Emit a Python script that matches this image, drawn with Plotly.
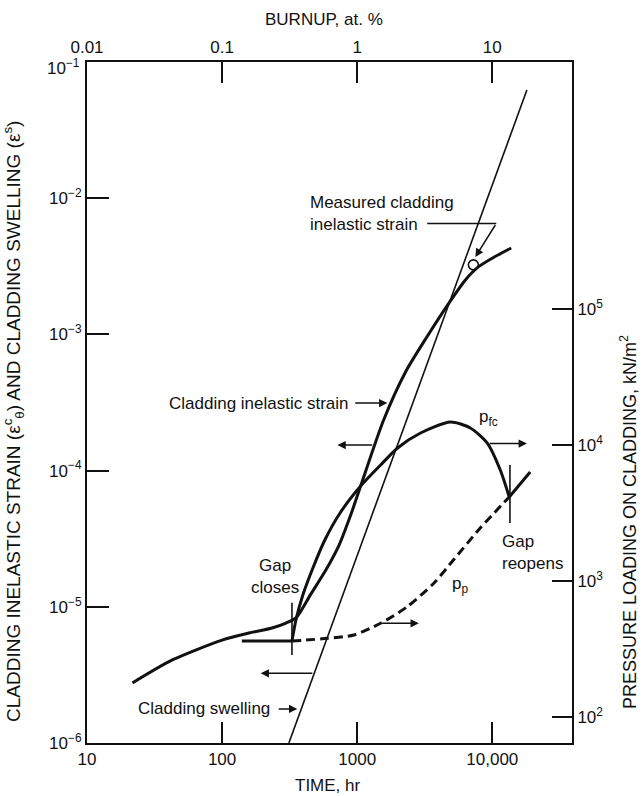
import math
import plotly.graph_objects as go

# ---------------- data ----------------
# cladding inelastic strain (left axis)
time_strain = [21.7, 42.8, 100, 158, 234, 297, 352, 454, 586, 730, 895, 1098, 1569, 2280,
               3314, 4898, 6320, 7883, 10340, 13810]
strain = [2.76e-6, 4.07e-6, 5.70e-6, 6.42e-6, 6.99e-6, 7.60e-6, 8.28e-6, 1.24e-5, 1.86e-5,
          2.80e-5, 4.72e-5, 8.53e-5, 2.35e-4, 5.30e-4, 9.73e-4, 1.76e-3, 2.51e-3, 3.13e-3,
          3.70e-3, 4.31e-3]

# cladding swelling (left axis)
time_swell = [312, 18030]
swelling = [1e-6, 0.0622]

# measured cladding inelastic strain
time_meas = [7245]
strain_meas = [3.24e-3]

# fuel-cladding contact pressure p_fc (right axis, kN/m2)
time_pfc = [329, 352, 396, 470, 576, 755, 1061, 1491, 1991, 2942, 4898, 6880, 9186, 11460, 13350]
p_fc = [362, 517, 789, 1246, 2002, 3216, 4994, 7127, 9504, 12250, 14760, 13340, 10340, 6550, 4146]

# plenum pressure p_p (right axis)
time_pp_open = [140, 329]
p_pp_open = [362, 362]
time_pp_closed = [329, 603, 946, 1490, 2344, 3690, 5155, 8150, 13350]
p_pp_closed = [362, 379, 401, 489, 647, 962, 1427, 2455, 4146]
time_pp_reopen = [13350, 19070]
p_pp_reopen = [4146, 6331]

# gap events
time_gap_close = 329
time_gap_reopen = 13510

# axis ticks
time_ticks = [10, 100, 1000, 10000]
time_labels = ["10", "100", "1000", "10,000"]
burnup_ticks = [0.01, 0.1, 1, 10]
burnup_labels = ["0.01", "0.1", "1", "10"]
strain_ticks = [1e-6, 1e-5, 1e-4, 1e-3, 1e-2, 1e-1]
strain_labels = ["10<sup>−6</sup>", "10<sup>−5</sup>", "10<sup>−4</sup>",
                 "10<sup>−3</sup>", "10<sup>−2</sup>", ""]
strain_top_label = "10<sup>−1</sup>"
press_ticks = [1e2, 1e3, 1e4, 1e5]
press_labels = ["10<sup>2</sup>", "10<sup>3</sup>", "10<sup>4</sup>", "10<sup>5</sup>"]

# ---------------- figure ----------------
FONT = "Liberation Sans"
BLACK = "#111111"
L = math.log10

fig = go.Figure()

thick = dict(color=BLACK, width=3)
SMOOTH = 0.7

fig.add_trace(go.Scatter(x=time_strain, y=strain, mode="lines",
                         line=dict(color=BLACK, width=3, shape="spline", smoothing=SMOOTH),
                         hoverinfo="skip", showlegend=False))
fig.add_trace(go.Scatter(x=time_swell, y=swelling, mode="lines",
                         line=dict(color=BLACK, width=1.6),
                         hoverinfo="skip", showlegend=False))
fig.add_trace(go.Scatter(x=time_meas, y=strain_meas, mode="markers",
                         marker=dict(symbol="circle-open", size=10, color=BLACK,
                                     line=dict(width=1.6, color=BLACK)),
                         hoverinfo="skip", showlegend=False))

fig.add_trace(go.Scatter(x=time_pfc, y=p_fc, mode="lines", yaxis="y2",
                         line=dict(color=BLACK, width=3, shape="spline", smoothing=SMOOTH),
                         hoverinfo="skip", showlegend=False))
fig.add_trace(go.Scatter(x=time_pp_open, y=p_pp_open, mode="lines", yaxis="y2",
                         line=thick, hoverinfo="skip", showlegend=False))
fig.add_trace(go.Scatter(x=time_pp_closed, y=p_pp_closed, mode="lines", yaxis="y2",
                         line=dict(color=BLACK, width=3, dash="9px,5px", shape="spline", smoothing=SMOOTH),
                         hoverinfo="skip", showlegend=False))
fig.add_trace(go.Scatter(x=time_pp_reopen, y=p_pp_reopen, mode="lines", yaxis="y2",
                         line=thick, hoverinfo="skip", showlegend=False))

# gap event markers (vertical strokes)
fig.add_trace(go.Scatter(x=[time_gap_close, time_gap_close], y=[4.43e-6, 1.07e-5], mode="lines",
                         line=dict(color=BLACK, width=1.6), hoverinfo="skip", showlegend=False))
fig.add_trace(go.Scatter(x=[time_gap_reopen, time_gap_reopen], y=[4.12e-5, 1.10e-4], mode="lines",
                         line=dict(color=BLACK, width=1.6), hoverinfo="skip", showlegend=False))
# leader for measured strain label
fig.add_trace(go.Scatter(x=[3297, 10700], y=[6.52e-3, 6.52e-3], mode="lines",
                         line=dict(color=BLACK, width=1.4), hoverinfo="skip", showlegend=False))

# dummy trace for the burnup (top) axis
fig.add_trace(go.Scatter(x=burnup_ticks, y=[1e-6] * len(burnup_ticks), xaxis="x2", mode="markers",
                         marker=dict(opacity=0), hoverinfo="skip", showlegend=False))

ann = []


def arrow(t0, e0, t1, e1):
    ann.append(dict(x=L(t1), y=L(e1), ax=L(t0), ay=L(e0), xref="x", yref="y",
                    axref="x", ayref="y", text="", showarrow=True, arrowhead=2,
                    arrowsize=1.1, arrowwidth=1.5, arrowcolor=BLACK, standoff=0, startstandoff=0))


arrow(1325, 1.54e-4, 715, 1.54e-4)        # strain -> left axis
arrow(9330, 1.58e-4, 18030, 1.58e-4)      # p_fc -> right axis
arrow(1490, 7.57e-6, 2858, 7.57e-6)       # p_p -> right axis
arrow(478, 3.25e-6, 193, 3.25e-6)         # swelling -> left axis
arrow(942, 3.13e-4, 1671, 3.13e-4)        # label arrow: inelastic strain
arrow(256, 1.78e-6, 360, 1.78e-6)         # label arrow: swelling
arrow(10700, 6.52e-3, 7490, 3.70e-3)      # measured strain leader


def label(t, e, text, xanchor="left", align="left", yref="y", size=17):
    ann.append(dict(x=L(t), y=L(e), xref="x", yref=yref, text=text, showarrow=False,
                    xanchor=xanchor, yanchor="middle", align=align,
                    font=dict(family=FONT, size=size, color=BLACK)))


label(429, 7.66e-3, "Measured cladding<br>inelastic strain")
label(896, 3.13e-4, "Cladding inelastic strain", xanchor="right")
label(233, 1.78e-6, "Cladding swelling", xanchor="right")
label(246, 1.66e-5, "Gap<br>closes", xanchor="center", align="center")
label(11460, 2.52e-5, "Gap<br>reopens")
label(7740, 15800, "p<sub>fc</sub>", yref="y2")
label(4898, 935, "p<sub>p</sub>", yref="y2")

# top-left corner tick label of the strain axis (sits just below the corner)
ann.append(dict(x=0, y=1, xref="paper", yref="paper", xshift=-5, yshift=-5, text=strain_top_label,
                showarrow=False, xanchor="right", yanchor="middle",
                font=dict(family=FONT, size=17, color=BLACK)))

# axis titles (paper coordinates)
ann.append(dict(x=0.489, y=1.0617, xref="paper", yref="paper", text="BURNUP, at. %",
                showarrow=False, xanchor="center", yanchor="middle",
                font=dict(family=FONT, size=17, color=BLACK)))
ann.append(dict(x=0.497, y=-0.062, xref="paper", yref="paper", text="TIME, hr",
                showarrow=False, xanchor="center", yanchor="middle",
                font=dict(family=FONT, size=17, color=BLACK)))
ann.append(dict(x=-0.1526, y=0.4728, xref="paper", yref="paper", textangle=-90,
                text="CLADDING INELASTIC STRAIN (ε<sup>c</sup><sub>θ</sub>) AND CLADDING SWELLING (ε<sup>s</sup>)",
                showarrow=False, xanchor="center", yanchor="middle",
                font=dict(family=FONT, size=19, color=BLACK)))
ann.append(dict(x=1.1155, y=0.3245, xref="paper", yref="paper", textangle=-90,
                text="PRESSURE LOADING ON CLADDING, kN/m<sup>2</sup>",
                showarrow=False, xanchor="center", yanchor="middle",
                font=dict(family=FONT, size=18, color=BLACK)))

axis_common = dict(showline=True, linewidth=2, linecolor=BLACK, showgrid=False, zeroline=False,
                   ticks="inside", tickwidth=1.6, tickcolor=BLACK,
                   tickfont=dict(family=FONT, size=17, color=BLACK))

fig.update_layout(
    width=644, height=796,
    margin=dict(l=87, r=72, t=62, b=53),
    paper_bgcolor="white", plot_bgcolor="white",
    showlegend=False,
    annotations=ann,
    xaxis=dict(type="log", range=[1, 4.59], tickvals=time_ticks, ticktext=time_labels,
               ticklen=21, **axis_common),
    xaxis2=dict(type="log", range=[-2, 1.59], tickvals=burnup_ticks, ticktext=burnup_labels,
                overlaying="x", side="top", anchor="y", ticklen=21, **axis_common),
    yaxis=dict(type="log", range=[-6, -1], tickvals=strain_ticks, ticktext=strain_labels,
               ticklen=22, **axis_common),
    yaxis2=dict(type="log", range=[1.809, 6.816], tickvals=press_ticks, ticktext=press_labels,
                overlaying="y", side="right", anchor="x", ticklen=20, **axis_common),
)

fig.write_html("out.html")
